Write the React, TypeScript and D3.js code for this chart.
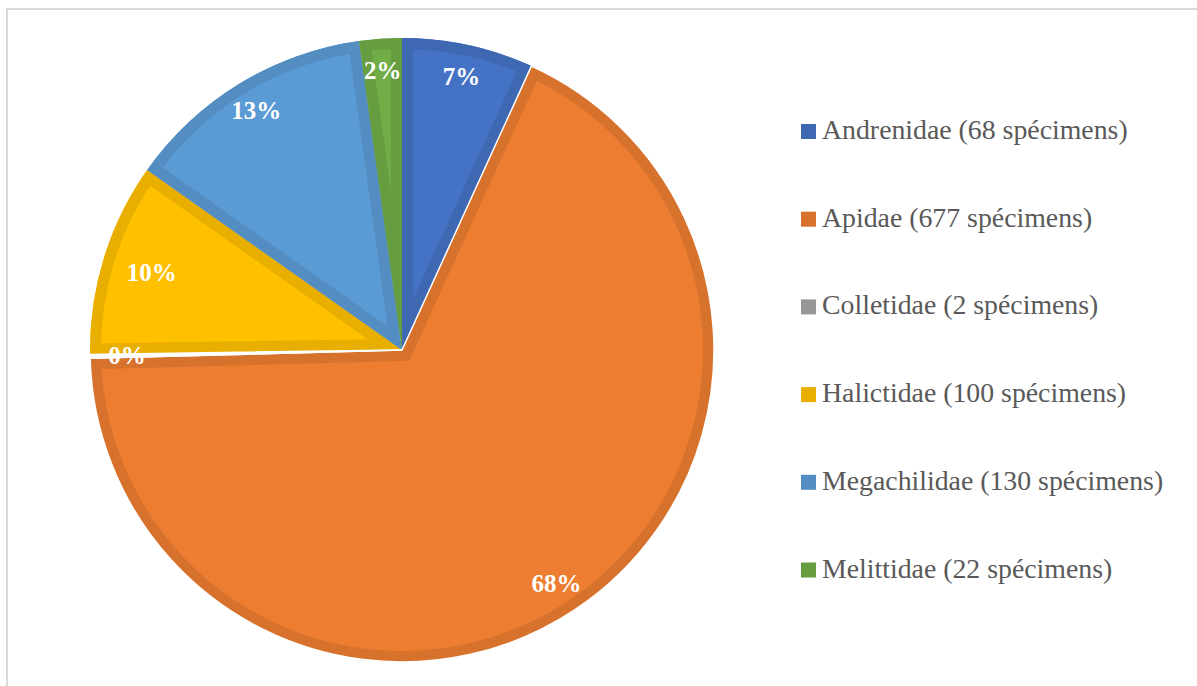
import React from "react";
import * as d3 from "d3";

const families = ["Andrenidae", "Apidae", "Colletidae", "Halictidae", "Megachilidae", "Melittidae"];
const specimens = [68, 677, 2, 100, 130, 22];
const colors = ["#4472C4", "#ED7D31", "#A5A5A5", "#FFC000", "#5B9BD5", "#70AD47"];

const W = 1197;
const H = 686;
const CX = 402;
const CY = 350;
const R = 312;
const BAND = 11;

export default function App() {
  const total = d3.sum(specimens);
  const pie = d3.pie<number>().sort(null).value((d) => d);
  const arcs = pie(specimens);
  const arc = d3.arc<d3.PieArcDatum<number>>().innerRadius(0).outerRadius(R);
  const dark = (c: string) => d3.color(c)!.darker(0.27).formatHex();
  const legendY = d3.scaleLinear().domain([0, families.length - 1]).range([139, 577.5]);
  const tiny = (i: number) => i >= 0 && i < specimens.length && specimens[i] / total < 0.01;
  const labelR = (i: number) => (tiny(i) ? 275 : tiny(i - 1) ? 262 : 280);

  return (
    <svg width={W} height={H} style={{ position: "absolute", left: 0, top: 0, background: "#fff" }}>
      <rect x={7} y={9} width={1300} height={800} fill="#fff" stroke="#D9D9D9" strokeWidth={2} />
      <defs>
        {arcs.map((a, i) => (
          <clipPath id={`clip${i}`} key={i}>
            <path d={arc(a)!} />
          </clipPath>
        ))}
      </defs>
      <g transform={`translate(${CX},${CY})`}>
        {arcs.map((a, i) => (
          <path key={`f${i}`} d={arc(a)!} fill={colors[i]} />
        ))}
        {arcs.map((a, i) => (
          <path
            key={`b${i}`}
            d={arc(a)!}
            fill="none"
            stroke={dark(colors[i])}
            strokeWidth={BAND * 2}
            strokeLinejoin="miter"
            clipPath={`url(#clip${i})`}
          />
        ))}
        <path d={arc(arcs[1])!} fill="none" stroke="#fff" strokeWidth={1.5} />
        <path d={arc(arcs[2])!} fill="#fff" stroke="#fff" strokeWidth={1.5} />
        {arcs.map((a, i) => {
          const la = d3.arc<d3.PieArcDatum<number>>().innerRadius(labelR(i)).outerRadius(labelR(i));
          const [x, y] = la.centroid(a);
          return (
            <text
              key={`l${i}`}
              x={x}
              y={y}
              textAnchor="middle"
              dominantBaseline="central"
              fill="#fff"
              fontFamily="'Liberation Serif', 'Times New Roman', serif"
              fontWeight="bold"
              fontSize={25}
            >
              {`${Math.round((specimens[i] / total) * 100)}%`}
            </text>
          );
        })}
      </g>
      <g>
        {families.map((f, i) => (
          <g key={f}>
            <rect x={801} y={legendY(i) - 15} width={15} height={15} fill={dark(colors[i])} />
            <text
              x={822}
              y={legendY(i)}
              fill="#595959"
              fontFamily="'Liberation Serif', 'Times New Roman', serif"
              fontSize={27.8}
            >
              {`${f} (${specimens[i]} spécimens)`}
            </text>
          </g>
        ))}
      </g>
    </svg>
  );
}
